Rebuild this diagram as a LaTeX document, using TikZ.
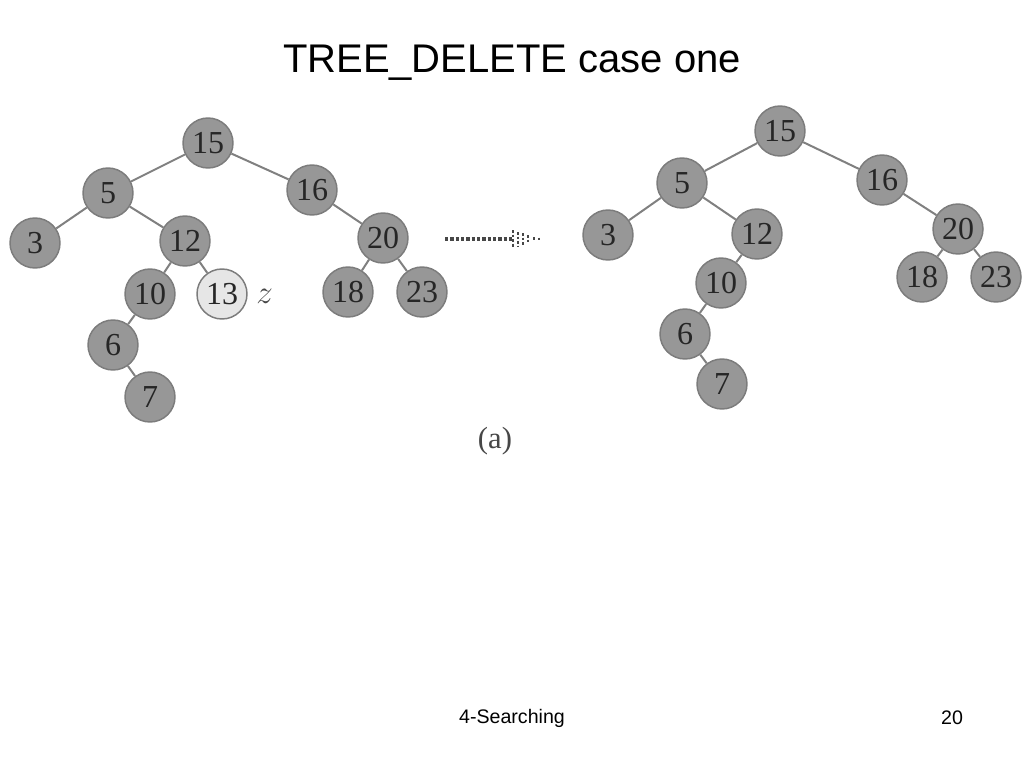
\documentclass[tikz,border=0pt]{standalone}
\usepackage{fontspec}
\setmainfont{Liberation Serif}
\newfontfamily\slidefont{Liberation Sans}
\usepackage{tikz}
\usetikzlibrary{arrows.meta}
\definecolor{keyfill}{HTML}{979797}
\definecolor{keyline}{HTML}{7C7C7C}
\definecolor{keytext}{HTML}{262626}
\definecolor{gonefill}{HTML}{E6E6E6}
\definecolor{edgeline}{HTML}{808080}
\tikzset{
  key/.style={circle,draw=keyline,fill=keyfill,line width=1.1pt,
    minimum size=37.5pt,inner sep=0pt,text=keytext,
    font=\fontsize{24}{24}\selectfont},
  gone/.style={key,fill=gonefill},
  edge/.style={draw=edgeline,line width=1.5pt},
  caption/.style={text=keytext!85,font=\fontsize{23}{23}\selectfont}
}

\begin{document}
\begin{tikzpicture}[x=0.75pt,y=-0.75pt]
  \useasboundingbox (0,0) rectangle (1024,768);
  \node[font=\slidefont\fontsize{30}{30}\selectfont] (title) at (512,63) {TREE\_DELETE case one};
  % Tree before deleting z
  \node[key] (l15) at (208,143) {15};
  \node[key] (l5) at (108,193) {5};
  \node[key] (l16) at (312,190) {16};
  \node[key] (l3) at (35,243) {3};
  \node[key] (l12) at (185,241) {12};
  \node[key] (l20) at (383,238) {20};
  \node[key] (l10) at (150,294) {10};
  \node[gone] (l13) at (222,294) {13};
  \node[key] (l18) at (348,292) {18};
  \node[key] (l23) at (422,292) {23};
  \node[key] (l6) at (113,345) {6};
  \node[key] (l7) at (150,397) {7};
  \node[caption,right=3pt,yshift=-2pt] (zlabel) at (l13.east) {$z$};
  \foreach \a/\b in {15/5,15/16,5/3,5/12,16/20,12/10,12/13,20/18,20/23,10/6,6/7}
    \draw[edge] (l\a) -- (l\b);
  % Tree after deleting z
  \node[key] (r15) at (780,131) {15};
  \node[key] (r5) at (682,183) {5};
  \node[key] (r16) at (882,180) {16};
  \node[key] (r3) at (608,235) {3};
  \node[key] (r12) at (757,234) {12};
  \node[key] (r20) at (958,229) {20};
  \node[key] (r10) at (721,283) {10};
  \node[key] (r18) at (922,277) {18};
  \node[key] (r23) at (996,277) {23};
  \node[key] (r6) at (685,334) {6};
  \node[key] (r7) at (722,384) {7};
  \foreach \a/\b in {15/5,15/16,5/3,5/12,16/20,12/10,20/18,20/23,10/6,6/7}
    \draw[edge] (r\a) -- (r\b);
  % Dotted arrow
  \coordinate (tail) at (445,239);
  \coordinate (head) at (513,239);
  \draw[keytext!85,line width=3pt,dash pattern=on 2.4pt off 1.6pt] (tail) -- (head);
  \foreach \dx/\h in {0/9,5/7,10/6,15/4,21/2,26/1.5}
    \draw[keytext!85,line width=2.2pt,dash pattern=on 2.2pt off 1.2pt]
      ([xshift=\dx*0.75pt,yshift=\h*0.75pt]head) -- ([xshift=\dx*0.75pt,yshift=-\h*0.75pt]head);
  \node[caption] (sub) at (495,441) {(a)};
  % Footer
  \node[font=\slidefont\fontsize{14.7}{14.7}\selectfont] (topic) at (512,718) {4-Searching};
  \node[font=\slidefont\fontsize{14.7}{14.7}\selectfont] (page) at (952,718) {20};
\end{tikzpicture}
\end{document}
